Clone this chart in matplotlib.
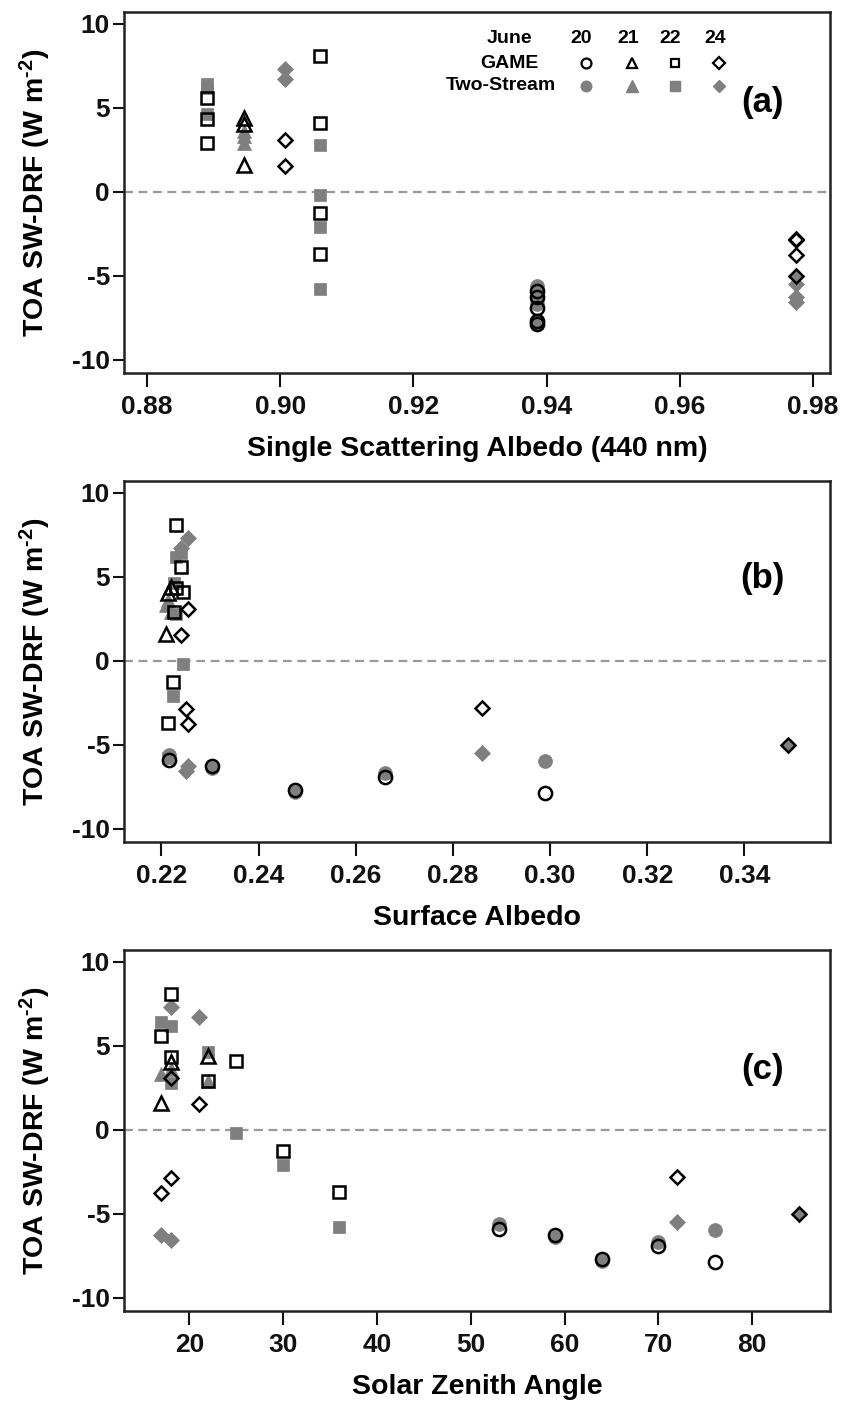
import numpy as np
import matplotlib.pyplot as plt

plt.rcParams['font.family'] = ['Liberation Sans', 'DejaVu Sans']
plt.rcParams['font.weight'] = 'bold'
plt.rcParams['axes.unicode_minus'] = False
plt.rcParams['mathtext.fontset'] = 'custom'
plt.rcParams['mathtext.rm'] = 'Liberation Sans:bold'
plt.rcParams['mathtext.bf'] = 'Liberation Sans:bold'
plt.rcParams['mathtext.default'] = 'bf'

# June 20 (circles)
ssa20 = [0.9385, 0.9385, 0.9385, 0.9385, 0.9385]
alb20 = [0.2215, 0.2305, 0.2475, 0.266, 0.299]
sza20 = [53, 59, 64, 70, 76]
game20 = [-5.9, -6.3, -7.7, -6.9, -7.9]
ts20 = [-5.6, -6.4, -7.8, -6.7, -6.0]

# June 21 (triangles)
ssa21 = [0.8945, 0.8945, 0.8945]
alb21 = [0.2209, 0.2213, 0.2220]
sza21 = [17, 18, 22]
game21 = [1.6, 4.0, 4.4]
ts21 = [3.3, 3.6, 2.9]

# June 22 (squares)
ssa22 = [0.889, 0.889, 0.889, 0.906, 0.906, 0.906, 0.906]
alb22 = [0.2240, 0.2230, 0.2226, 0.2230, 0.2245, 0.2224, 0.2214]
sza22 = [17, 18, 22, 18, 25, 30, 36]
game22 = [5.6, 4.3, 2.9, 8.1, 4.1, -1.3, -3.7]
ts22 = [6.4, 6.2, 4.6, 2.8, -0.2, -2.1, -5.8]

# June 24 (diamonds)
ssa24 = [0.9007, 0.9007, 0.9775, 0.9775, 0.9775, 0.9775]
alb24 = [0.2255, 0.2240, 0.2254, 0.2250, 0.286, 0.349]
sza24 = [18, 21, 17, 18, 72, 85]
game24 = [3.1, 1.5, -3.8, -2.9, -2.8, -5.0]
ts24 = [7.3, 6.7, -6.3, -6.6, -5.5, -5.0]

days = ['20', '21', '22', '24']
markers = ['o', '^', 's', 'D']
sizes = [9.5, 10, 8.5, 7.5]
groups = [
    (ssa20, alb20, sza20, game20, ts20),
    (ssa21, alb21, sza21, game21, ts21),
    (ssa22, alb22, sza22, game22, ts22),
    (ssa24, alb24, sza24, game24, ts24),
]

gray = '#7f7f7f'

panels = [
    dict(col=0, xlabel='Single Scattering Albedo (440 nm)', xlim=(0.87655, 0.98255),
         ticks=np.arange(0.88, 0.981, 0.02), fmt='{:.2f}', tag='(a)', tag_y=5.3),
    dict(col=1, xlabel='Surface Albedo', xlim=(0.2123, 0.3576),
         ticks=np.arange(0.22, 0.341, 0.02), fmt='{:.2f}', tag='(b)', tag_y=4.9),
    dict(col=2, xlabel='Solar Zenith Angle', xlim=(13.04, 88.3),
         ticks=np.arange(20, 81, 10), fmt='{:.0f}', tag='(c)', tag_y=3.6),
]

W, H = 851, 1403
fig = plt.figure(figsize=(W / 100, H / 100), dpi=100)
tops = [12, 481, 950]

for p, top in zip(panels, tops):
    ax = fig.add_axes([124 / W, (H - top - 361) / H, 706 / W, 361 / H])
    ax.axhline(0, color='#9a9a9a', ls=(0, (4, 2.5)), lw=1.6, zorder=1)

    for m, s, g in zip(markers, sizes, groups):
        x = g[p['col']]
        ax.plot(x, g[4], ls='none', marker=m, ms=s + 0.5, mfc=gray, mec=gray,
                mew=0.5, zorder=2)
    for m, s, g in zip(markers, sizes, groups):
        x = g[p['col']]
        ax.plot(x, g[3], ls='none', marker=m, ms=s, mfc='none', mec='black',
                mew=1.8, zorder=3)

    ax.set_xlim(*p['xlim'])
    ax.set_ylim(-10.8, 10.7)
    ax.set_xticks(p['ticks'])
    ax.set_xticklabels([p['fmt'].format(t) for t in p['ticks']])
    ax.set_yticks([-10, -5, 0, 5, 10])
    ax.tick_params(axis='x', direction='out', length=10, width=1.5, pad=6,
                   labelsize=19, colors='#111111')
    ax.tick_params(axis='y', direction='out', length=8, width=1.5, pad=2,
                   labelsize=19, colors='#111111')
    for sp in ax.spines.values():
        sp.set_linewidth(1.8)
        sp.set_color('#222222')

    ax.set_xlabel(p['xlabel'], fontsize=20.5, fontweight='bold')
    ax.xaxis.set_label_coords(0.5, -0.175)
    ax.set_ylabel('TOA SW-DRF (W m$^{\\text{-2}}$)', fontsize=20.5, fontweight='bold')
    ax.yaxis.set_label_coords(-0.10, 0.5)

    ax.text(0.905, p['tag_y'], p['tag'], transform=ax.get_yaxis_transform(),
            ha='center', va='center', fontsize=25, fontweight='bold')

    if p['col'] == 0:
        tr = ax.get_yaxis_transform()
        ax.text(0.546, 9.1, 'June', transform=tr, ha='center', va='center', fontsize=14)
        ax.text(0.546, 7.66, 'GAME', transform=tr, ha='center', va='center', fontsize=14)
        ax.text(0.534, 6.31, 'Two-Stream', transform=tr, ha='center', va='center', fontsize=14)
        xs = [0.654, 0.720, 0.780, 0.843]
        for xi, d, m, s in zip(xs, days, markers, sizes):
            ax.text(xi - 0.006, 9.1, d, transform=tr, ha='center', va='center', fontsize=14)
            ax.plot([xi], [7.66], transform=tr, ls='none', marker=m, ms=s * 0.75,
                    mfc='none', mec='black', mew=1.6, clip_on=False)
            ax.plot([xi], [6.31], transform=tr, ls='none', marker=m, ms=s * 0.8,
                    mfc=gray, mec=gray, clip_on=False)

fig.savefig('out.png', dpi=100)
